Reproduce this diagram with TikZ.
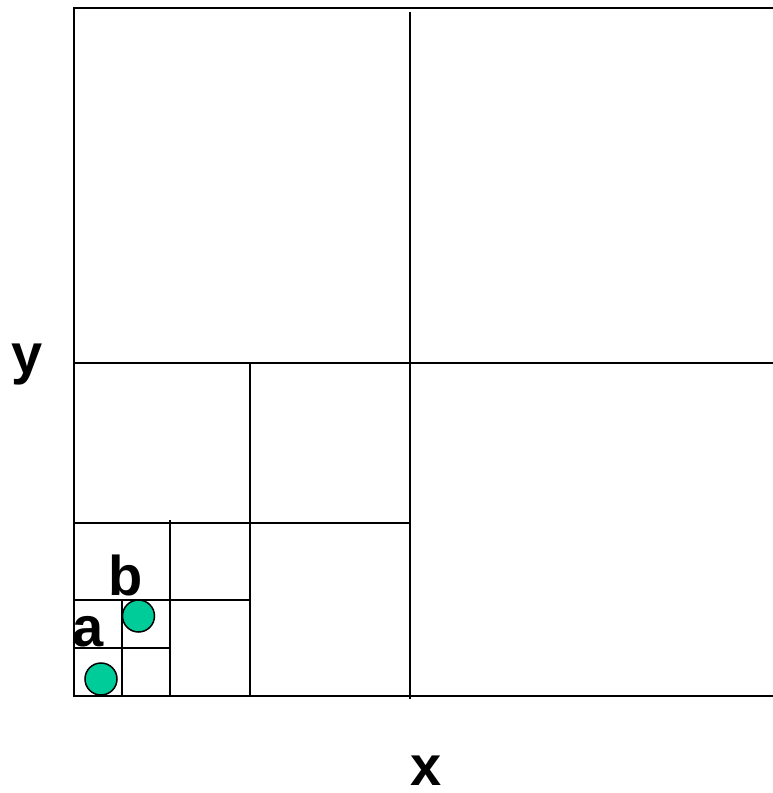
\documentclass[tikz,border=0pt]{standalone}
\usepackage{fontspec}
\setmainfont{Liberation Sans}
\usepackage{tikz}

\begin{document}
\begin{tikzpicture}[
    x=1pt,y=-1pt,
    cell/.style={line width=2pt},
    point/.style={draw, circle, line width=1.5pt, minimum size=32pt, inner sep=0pt, fill=pointgreen},
    lbl/.style={font=\fontsize{56}{60}\selectfont\bfseries, inner sep=0pt, anchor=base}
  ]
    \definecolor{pointgreen}{RGB}{0,204,153}
    \useasboundingbox (0,0) rectangle (773,793);

    % outer cells
    \draw[cell] (773,8) -- (74,8) -- (74,696) -- (773,696);
    \draw[cell] (410,12) -- (410,699);
    \draw[cell] (74,363) -- (773,363);
    % lower left quadrant
    \draw[cell] (250,363) -- (250,696);
    \draw[cell] (74,523) -- (410,523);
    % next level
    \draw[cell] (170,520) -- (170,696);
    \draw[cell] (74,600) -- (250,600);
    % smallest
    \draw[cell] (122,600) -- (122,696);
    \draw[cell] (74,648) -- (170,648);

    \node[point] (pa) at (101,679) {};
    \node[point] (pb) at (138.5,616) {};

    \node[lbl] (la) at (88,646) {a};
    \node[lbl] (lb) at (126,595) {b};
    \node[lbl] (ly) at (27.5,373) {y};
    \node[lbl] (lx) at (426,785) {x};
  \end{tikzpicture}
\end{document}
